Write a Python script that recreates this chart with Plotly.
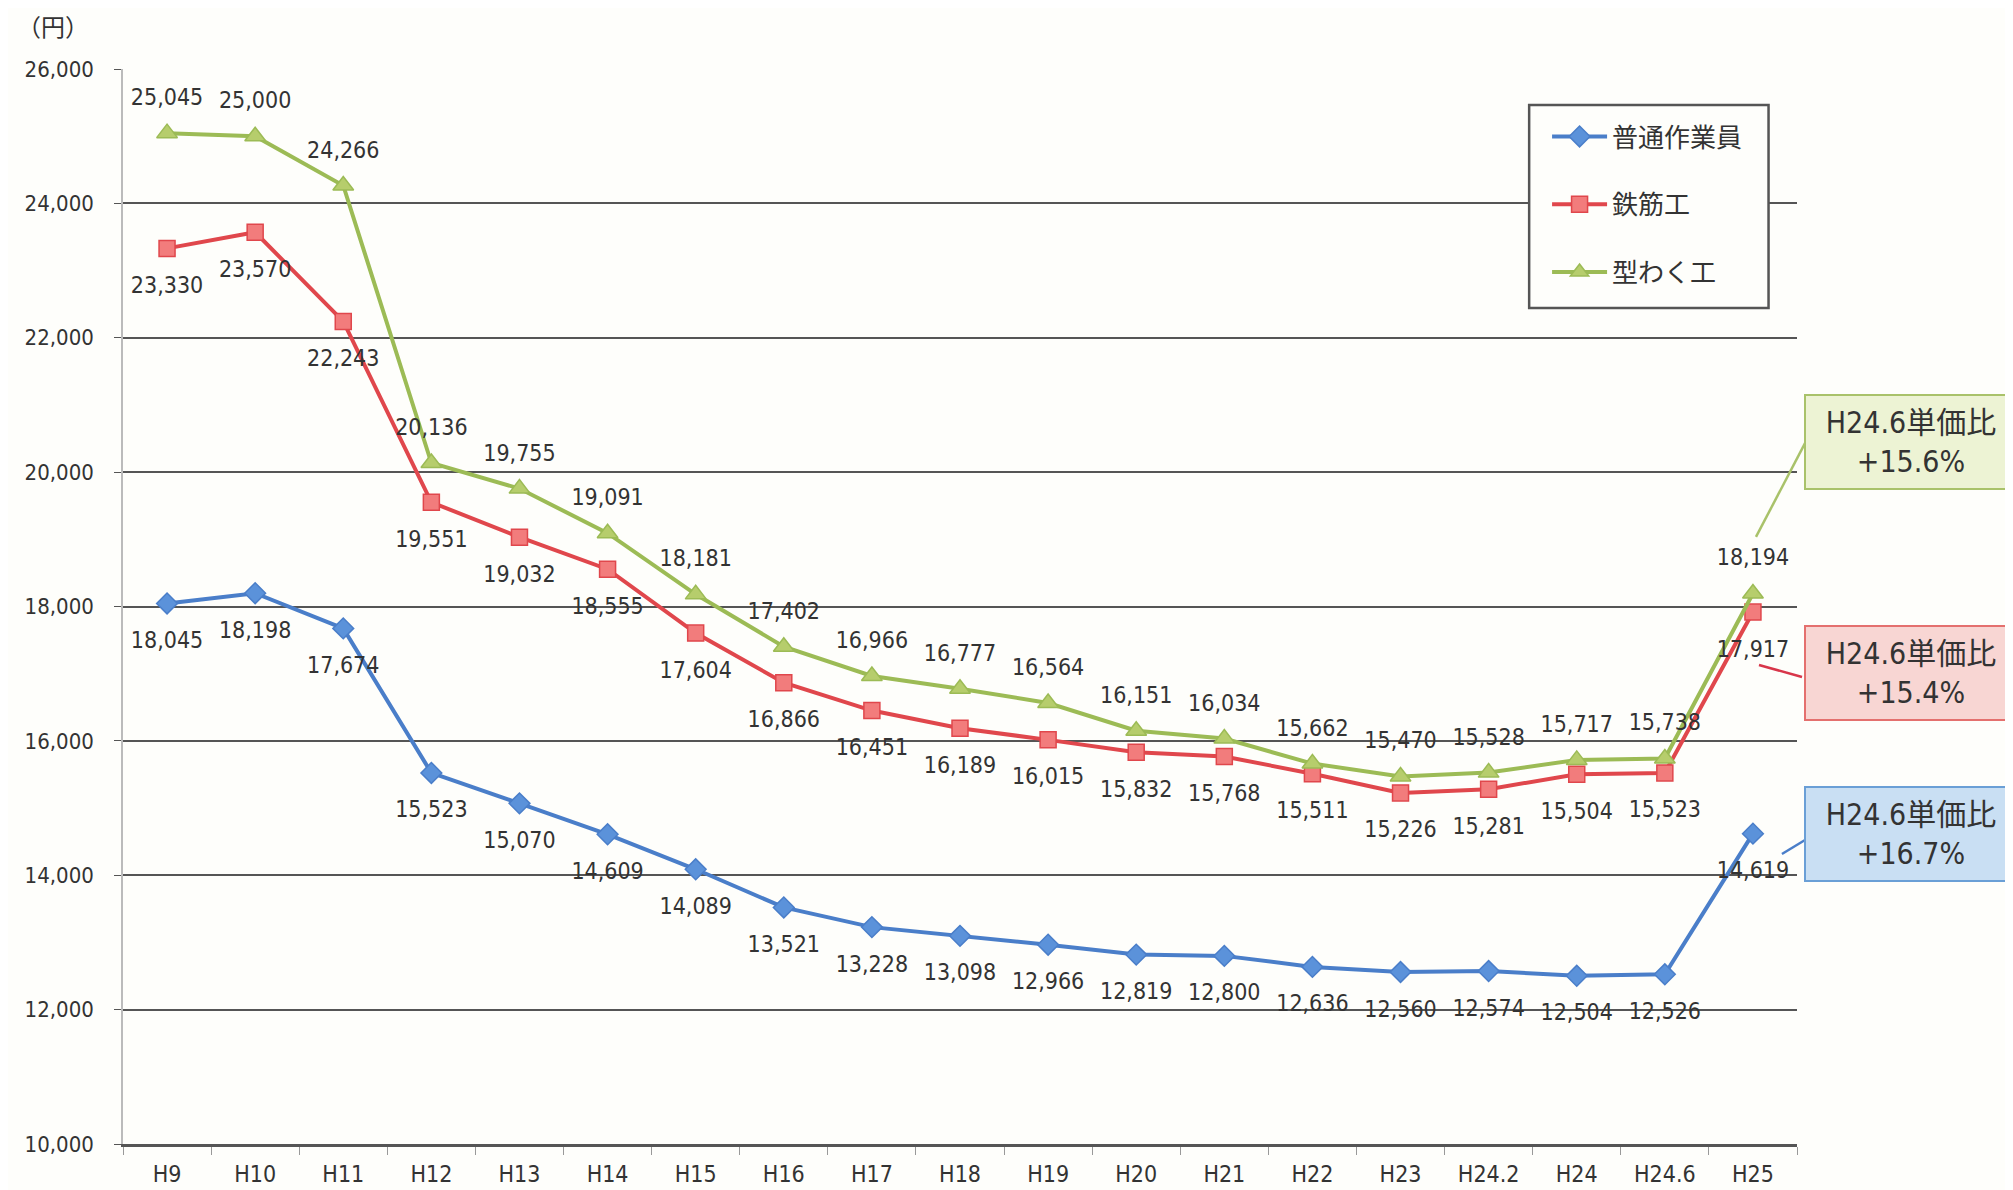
import plotly.graph_objects as go

categories = ["H9", "H10", "H11", "H12", "H13", "H14", "H15", "H16", "H17", "H18",
              "H19", "H20", "H21", "H22", "H23", "H24.2", "H24", "H24.6", "H25"]

series_names = ["普通作業員", "鉄筋工", "型わく工"]

futsu = [18045, 18198, 17674, 15523, 15070, 14609, 14089, 13521, 13228, 13098,
         12966, 12819, 12800, 12636, 12560, 12574, 12504, 12526, 14619]
tekkin = [23330, 23570, 22243, 19551, 19032, 18555, 17604, 16866, 16451, 16189,
          16015, 15832, 15768, 15511, 15226, 15281, 15504, 15523, 17917]
katawaku = [25045, 25000, 24266, 20136, 19755, 19091, 18181, 17402, 16966, 16777,
            16564, 16151, 16034, 15662, 15470, 15528, 15717, 15738, 18194]

callout_texts = ["H24.6単価比<br>+15.6%", "H24.6単価比<br>+15.4%", "H24.6単価比<br>+16.7%"]

FONT = "DejaVu Sans Condensed, DejaVu Sans, Noto Sans CJK JP"
TXT = "#333333"
BG = "#FEFEFB"

styles = [
    dict(line="#4A7EC9", fill="#5B92DA", symbol="diamond", size=16, pos="bottom center", lab=42),
    dict(line="#E0474C", fill="#F27C7C", symbol="square", size=16, pos="bottom center", lab=42),
    dict(line="#9CBB55", fill="#B6CD6C", symbol="triangle-up", size=18, pos="top center", lab=34),
]

fig = go.Figure()
for name, vals, st in zip(series_names, [futsu, tekkin, katawaku], styles):
    fig.add_trace(go.Scatter(
        x=categories, y=vals, name=name, mode="lines+markers",
        line=dict(color=st["line"], width=4),
        marker=dict(symbol=st["symbol"], size=st["size"], color=st["fill"],
                    line=dict(color=st["line"], width=1.5)),
        legendgroup=name,
    ))
for name, vals, st in zip(series_names, [futsu, tekkin, katawaku], styles):
    fig.add_trace(go.Scatter(
        x=categories, y=vals, mode="markers+text",
        text=[f"{v:,}" for v in vals], textposition=st["pos"],
        textfont=dict(family=FONT, size=23, color=TXT),
        marker=dict(size=st["lab"], opacity=0), showlegend=False, hoverinfo="skip",
        cliponaxis=False,
    ))

# legend frame (drawn as a box behind the library legend)
fig.add_shape(type="rect", xref="paper", yref="paper", x0=0.840, x1=0.983,
              y0=0.7777, y1=0.9665, fillcolor=BG, layer="above",
              line=dict(color="#555555", width=2.5))

# callout boxes
box_specs = [
    dict(y=0.653, bg="#EDF3D4", border="#A9C26A"),
    dict(y=0.438, bg="#F8D6D3", border="#E4706E"),
    dict(y=0.2884, bg="#C9DFF3", border="#6A9FD6"),
]
for txt, b in zip(callout_texts, box_specs):
    fig.add_annotation(
        xref="paper", yref="paper", x=1.0042, y=b["y"], xanchor="left", yanchor="middle",
        text=txt, showarrow=False, align="center",
        font=dict(family=FONT, size=30, color=TXT),
        bgcolor=b["bg"], bordercolor=b["border"], borderwidth=2,
        width=206, height=88, borderpad=2,
    )

leaders = [
    dict(x0=0.9755, y0=0.5647, x1=1.0048, y1=0.652, c="#A9C26A"),
    dict(x0=0.9773, y0=0.4456, x1=1.003, y1=0.4344, c="#D8364A"),
    dict(x0=0.991, y0=0.2698, x1=1.0048, y1=0.2828, c="#4A7EC9"),
]
for l in leaders:
    fig.add_shape(type="line", xref="paper", yref="paper", x0=l["x0"], y0=l["y0"],
                  x1=l["x1"], y1=l["y1"], line=dict(color=l["c"], width=2.5))

fig.add_annotation(xref="paper", yref="paper", x=-0.0645, y=1.038, text="（円）",
                   xanchor="left", yanchor="middle",
                   showarrow=False, font=dict(family=FONT, size=24, color=TXT))

fig.update_layout(
    width=2005, height=1182,
    margin=dict(l=115, r=216, t=61, b=46),
    paper_bgcolor=BG, plot_bgcolor=BG,
    font=dict(family=FONT, size=23, color=TXT),
    showlegend=True,
    legend=dict(x=0.8507, y=0.959, xanchor="left", yanchor="top",
                bgcolor="rgba(0,0,0,0)", borderwidth=0,
                font=dict(family=FONT, size=26, color=TXT),
                itemwidth=55, tracegroupgap=31),
    xaxis=dict(type="category", range=[-0.5, 18.5], showgrid=False, automargin=False,
               showline=True, linecolor="#555555", linewidth=2.5,
               ticks="outside", tickson="boundaries", ticklen=8, tickcolor="#999999",
               ticklabelstandoff=8,
               tickfont=dict(family=FONT, size=23, color=TXT)),
    yaxis=dict(range=[10000, 26000], dtick=2000, tickformat=",", automargin=False,
               showgrid=True, gridcolor="#555555", gridwidth=2,
               showline=True, linecolor="#bbbbbb", linewidth=1.5,
               ticks="outside", ticklen=7, tickcolor="#555555",
               ticklabelstandoff=16,
               zeroline=False,
               tickfont=dict(family=FONT, size=22, color=TXT)),
)

fig.write_html("out.html")
